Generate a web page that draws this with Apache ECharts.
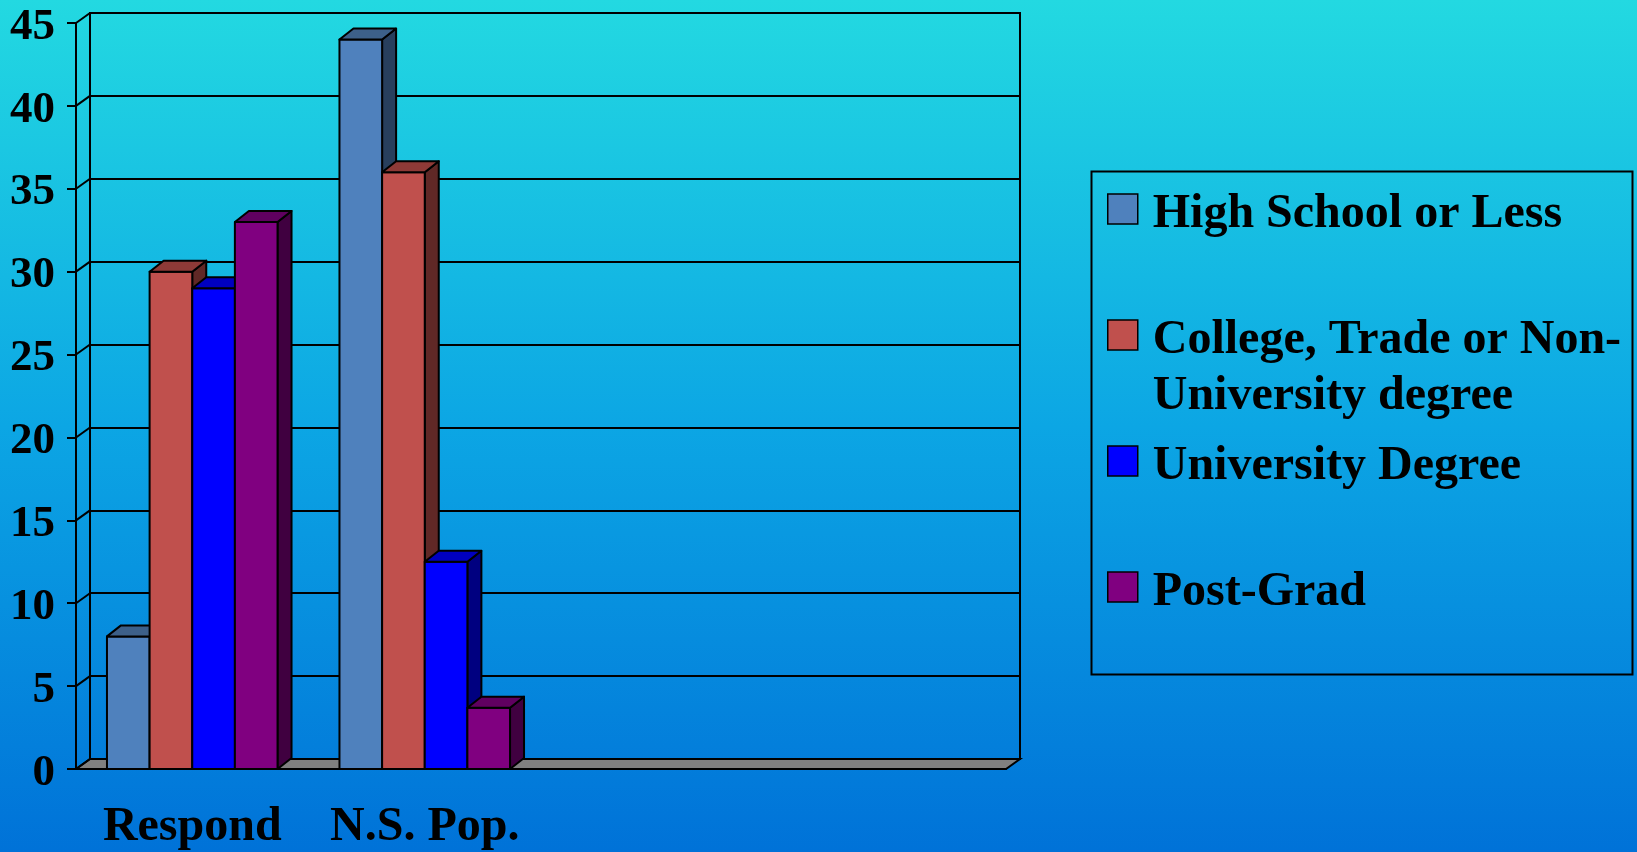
<!DOCTYPE html>
<html>
<head>
<meta charset="utf-8">
<title>Education level</title>
<script src="https://cdn.jsdelivr.net/npm/echarts@6/dist/echarts.min.js"></script>
<style>
html, body { margin: 0; padding: 0; }
#chart {
    width: 1637px;
    height: 852px;
    background: linear-gradient(to bottom, #23d9e1 0%, #0ca6e4 50%, #0072d8 100%);
}
</style>
</head>
<body>
<div id="chart"></div>
<script>
// data
var categories = ['Respond', 'N.S. Pop.', '', ''];
var seriesNames = ['High School or Less', 'College, Trade or Non-University degree', 'University Degree', 'Post-Grad'];
var highSchool = [8, 44];
var college = [30, 36];
var university = [29, 12.5];
var postGrad = [33, 3.7];
var yTicks = [0, 5, 10, 15, 20, 25, 30, 35, 40, 45];

var seriesData = [highSchool, college, university, postGrad];

// face colours: front, top, side
var faces = [
    { front: '#4f81bd', top: '#3d6089', side: '#283f5d' },
    { front: '#c0504d', top: '#8e3a37', side: '#602826' },
    { front: '#0000ff', top: '#0000c0', side: '#000080' },
    { front: '#800080', top: '#600060', side: '#400040' }
];

var FONT = "'Liberation Serif', 'DejaVu Serif', serif";
var WALL_DX = 14, WALL_DY = 10;   // back wall offset
var BAR_DX = 14, BAR_DY = 11;     // bar depth
var BAR_FRAC = 0.1834;            // bar width / category width
var LW = 2;
var LINE = { stroke: '#000', lineWidth: LW, lineJoin: 'round' };

var chart = echarts.init(document.getElementById('chart'), null, { renderer: 'canvas' });

function barRenderer(idx) {
    return function (params, api) {
        var cat = api.value(0);
        var base = api.coord([cat, 0]);
        var top = api.coord([cat, api.value(1)]);
        var w = api.size([1, 0])[0] * BAR_FRAC;
        var x0 = base[0] - 2 * w + idx * w;
        var x1 = x0 + w;
        var yT = top[1], yB = base[1];
        var c = faces[idx];
        return {
            type: 'group',
            children: [{
                type: 'polygon',
                shape: { points: [[x1, yT], [x1 + BAR_DX, yT - BAR_DY], [x1 + BAR_DX, yB - BAR_DY], [x1, yB]] },
                style: echarts.util.extend({ fill: c.side }, LINE)
            }, {
                type: 'rect',
                shape: { x: x0, y: yT, width: w, height: yB - yT },
                style: echarts.util.extend({ fill: c.front }, LINE)
            }, {
                type: 'polygon',
                shape: { points: [[x0, yT], [x1, yT], [x1 + BAR_DX, yT - BAR_DY], [x0 + BAR_DX, yT - BAR_DY]] },
                style: echarts.util.extend({ fill: c.top }, LINE)
            }]
        };
    };
}

// small diagonals on the left side wall
function wallRenderer(params, api) {
    var cs = params.coordSys;
    var y = api.coord([0, api.value(1)])[1];
    return {
        type: 'line',
        shape: { x1: cs.x, y1: y, x2: cs.x + WALL_DX, y2: y - WALL_DY },
        style: { stroke: '#000', lineWidth: LW }
    };
}

// grey floor
function floorRenderer(params, api) {
    var cs = params.coordSys;
    var y = api.coord([0, 0])[1];
    return {
        type: 'polygon',
        shape: { points: [[cs.x, y], [cs.x + cs.width, y], [cs.x + cs.width + WALL_DX, y - WALL_DY], [cs.x + WALL_DX, y - WALL_DY]] },
        style: { fill: '#808080', stroke: '#000', lineWidth: LW }
    };
}

var series = [{
    type: 'custom',
    name: 'floor',
    silent: true,
    z: 1,
    renderItem: floorRenderer,
    encode: { x: 0, y: 1 },
    data: [[0, 0]]
}, {
    type: 'custom',
    name: 'wall',
    silent: true,
    z: 1,
    renderItem: wallRenderer,
    encode: { x: 0, y: 1 },
    data: yTicks.map(function (v) { return [0, v]; })
}];

seriesNames.forEach(function (name, i) {
    series.push({
        type: 'custom',
        name: name,
        z: 3,
        renderItem: barRenderer(i),
        itemStyle: { color: faces[i].front },
        encode: { x: 0, y: 1 },
        data: seriesData[i].map(function (v, k) { return [k, v]; })
    });
});

// one legend per item so the rows sit where the original puts them.
// The swatch is a 30x30 square at the top of a taller icon box, so the
// (centred) text lands a little lower, as in the original.
var legendCenters = [209, 335, 461, 587];
var LEGEND_LH = 56;
var SW = 30;          // swatch size
var TEXT_DROP = 6;
var legends = seriesNames.map(function (name, i) {
    var lines = name.replace('Non-', 'Non-\n').split('\n').length;
    var boxH = 2 * (SW / 2 + TEXT_DROP + (lines - 1) * LEGEND_LH / 2);
    return {
        data: [name],
        orient: 'vertical',
        left: 1107,
        top: legendCenters[i] - SW / 2 - Math.max(0, lines * LEGEND_LH / 2 - boxH / 2),
        padding: 0,
        icon: 'path://M0,0L' + SW + ',0L' + SW + ',' + SW + 'L0,' + SW + 'Z M0,' + boxH,
        itemWidth: SW,
        itemHeight: boxH,
        selectedMode: false,
        itemStyle: { borderColor: '#000', borderWidth: 1.5 },
        formatter: function (n) { return n.replace('Non-', 'Non-\n'); },
        textStyle: {
            color: '#000', fontFamily: FONT, fontWeight: 'bold', fontSize: 48,
            lineHeight: LEGEND_LH, padding: [0, 0, 0, 10]
        }
    };
});

var option = {
    animation: false,
    backgroundColor: 'transparent',
    grid: [{
        left: 76, top: 23, width: 930, height: 746,
        outerBoundsMode: 'none'
    }, {
        left: 76 + WALL_DX, top: 23 - WALL_DY, width: 930, height: 746,
        show: true, borderColor: '#000', borderWidth: LW,
        outerBoundsMode: 'none'
    }],
    legend: legends,
    graphic: [{
        type: 'rect',
        left: 1089,
        top: 169,
        shape: { width: 541, height: 503 },
        style: { fill: 'none', stroke: '#000', lineWidth: 2 }
    }],
    xAxis: [{
        gridIndex: 0,
        type: 'category',
        data: categories,
        axisLine: { lineStyle: { color: '#000', width: LW } },
        axisTick: { length: 11, lineStyle: { color: '#000', width: LW } },
        axisLabel: {
            interval: 0, margin: 35, color: '#000',
            fontFamily: FONT, fontWeight: 'bold', fontSize: 48
        },
        splitLine: { show: false }
    }, {
        gridIndex: 1,
        type: 'category',
        data: categories,
        show: false
    }],
    yAxis: [{
        gridIndex: 0,
        type: 'value',
        min: 0, max: 45, interval: 5,
        axisLine: { show: true, lineStyle: { color: '#000', width: LW } },
        axisTick: { show: true, length: 9, lineStyle: { color: '#000', width: LW } },
        axisLabel: {
            margin: 21, color: '#000',
            fontFamily: FONT, fontWeight: 'bold', fontSize: 45,
            // nudge the numbers a few pixels below their ticks
            verticalAlign: 'top', lineHeight: 8
        },
        splitLine: { show: false }
    }, {
        gridIndex: 1,
        type: 'value',
        min: 0, max: 45, interval: 5,
        axisLine: { show: false },
        axisTick: { show: false },
        axisLabel: { show: false },
        splitLine: { show: true, lineStyle: { color: '#000', width: LW } }
    }],
    series: series
};

chart.setOption(option);
</script>
</body>
</html>
